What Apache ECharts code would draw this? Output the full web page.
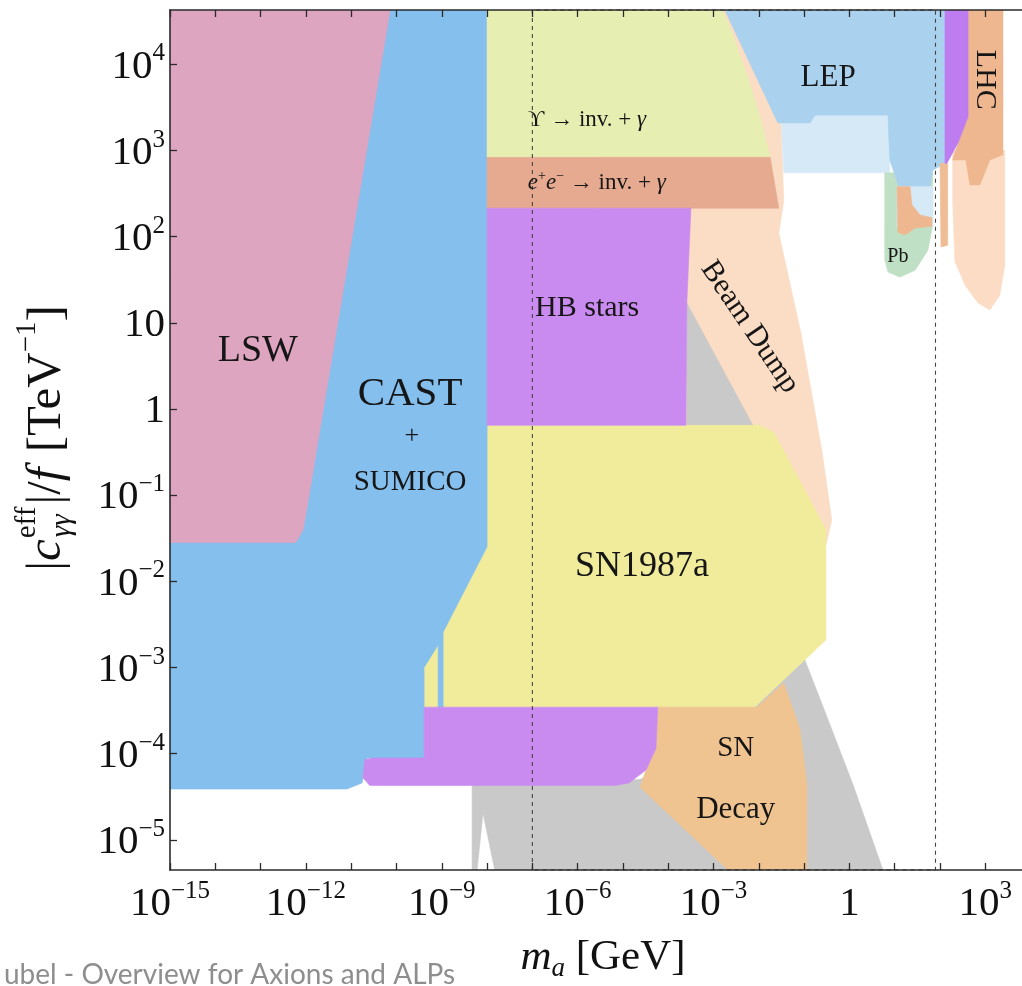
<!DOCTYPE html>
<html><head><meta charset="utf-8">
<script src="https://cdn.jsdelivr.net/npm/echarts@6/dist/echarts.min.js"></script>
<style>html,body{margin:0;padding:0;background:#fff;}#c{width:1022px;height:986px;}</style>
</head><body><div id="c"></div>
<script>
// ---- axes (log10 values) ----
const xMin = -15, xMax = 3.81;       // log10(m_a / GeV)
const yMin = -5.35, yMax = 4.63;     // log10(|c|/f / TeV^-1)
const xTicks = [-15,-14,-13,-12,-11,-10,-9,-8,-7,-6,-5,-4,-3,-2,-1,0,1,2,3];
const xLabelTicks = [-15,-12,-9,-6,-3,0,3];
const yTicks = [-5,-4,-3,-2,-1,0,1,2,3,4];

// ---- exclusion regions: [log10 m_a, log10 coupling] ----
const beamDump = [[-5.51,4.63],[-2.70,4.63],[-1.51,3.32],[-1.45,2.42],[-1.56,2.04],[-1.07,0.88],[-0.61,-0.48],[-0.39,-1.29],[-0.52,-1.58],[-1.67,-0.27],[-1.98,-0.19],[-5.51,-0.19]];
const grayBand = [[-8.33,-4.30],[-4.62,-4.30],[-2.09,-3.46],[-1.03,-2.85],[-0.52,-3.54],[0.08,-4.36],[0.74,-5.35],[-7.83,-5.35],[-8.09,-4.69],[-8.22,-5.35],[-8.33,-5.35]];
const grayTri = [[-3.59,1.23],[-3.59,-0.19],[-2.13,-0.19]];
const sn1987a = [[-8.00,-0.19],[-1.98,-0.19],[-1.67,-0.27],[-0.52,-1.40],[-0.52,-2.68],[-2.09,-3.46],[-9.39,-3.46],[-9.39,-3.00],[-8.00,-1.60]];
const castSumico = [[-15,4.63],[-8.00,4.63],[-8.00,-1.60],[-8.97,-2.59],[-8.97,-3.46],[-9.08,-3.46],[-9.08,-2.74],[-9.39,-3.00],[-9.39,-4.05],[-10.65,-4.05],[-10.76,-4.34],[-11.09,-4.41],[-15,-4.41]];
const lsw = [[-15,4.63],[-10.14,4.63],[-11.69,-0.24],[-11.95,-1.07],[-12.06,-1.40],[-12.22,-1.55],[-15,-1.55]];
const snDecay = [[-4.23,-3.46],[-2.04,-3.46],[-1.45,-3.18],[-1.09,-3.72],[-0.94,-4.36],[-0.94,-5.35],[-2.68,-5.35],[-4.62,-4.39],[-4.49,-4.19],[-4.27,-3.94]];
const hbLow = [[-9.39,-3.46],[-4.23,-3.46],[-4.27,-3.94],[-4.49,-4.19],[-4.87,-4.34],[-5.18,-4.37],[-10.59,-4.37],[-10.74,-4.28],[-10.70,-4.07],[-10.54,-4.05],[-9.39,-4.05]];
const upsilon = [[-8.00,4.63],[-2.81,4.63],[-2.59,4.36],[-2.20,3.78],[-1.91,3.27],[-1.75,2.92],[-8.00,2.92]];
const eeInv = [[-8.00,2.92],[-1.75,2.92],[-1.56,2.33],[-8.00,2.33]];
const hbStars = [[-8.00,2.33],[-3.50,2.33],[-3.59,1.23],[-3.61,-0.19],[-8.00,-0.19]];
const lepLight = [[-1.51,3.41],[0.89,3.41],[0.89,2.74],[-1.45,2.74]];
const pb = [[0.78,2.74],[1.84,2.74],[1.84,2.13],[1.73,1.84],[1.45,1.61],[1.11,1.53],[0.85,1.59],[0.78,1.73]];
const lep = [[-2.75,4.63],[2.11,4.63],[2.11,2.85],[1.84,2.77],[1.78,2.58],[1.09,2.58],[0.89,2.89],[0.85,3.41],[-0.76,3.41],[-0.87,3.32],[-1.58,3.32]];
const lepPale = [[1.05,2.58],[1.84,2.58],[1.84,2.12],[1.05,2.12]];
const orangeU = [[1.05,2.58],[1.34,2.58],[1.38,2.37],[1.56,2.25],[1.82,2.22],[1.82,2.12],[1.45,2.10],[1.23,2.02],[1.07,2.05]];
const orangeStrip = [[2.00,2.85],[2.17,2.85],[2.17,1.90],[2.02,1.88]];
const lhcPeach = [[2.28,3.00],[3.43,3.00],[3.43,1.67],[3.32,1.32],[3.10,1.15],[2.84,1.23],[2.55,1.44],[2.33,1.71],[2.28,2.42]];
const lhcOrange = [[2.62,4.63],[3.39,4.63],[3.39,2.95],[3.10,2.89],[2.88,2.60],[2.66,2.60],[2.57,2.89],[2.28,2.89],[2.40,3.09],[2.62,3.39]];
const lhcPurple = [[2.11,4.63],[2.62,4.63],[2.62,3.39],[2.40,3.09],[2.15,2.85],[2.11,2.85]];
const dashBox = [[-7,-5.35],[-7,4.63],[1.9,4.63],[1.9,-5.35],[-7,-5.35]];

const FAM = '"Liberation Serif","DejaVu Serif",serif';
const regionLabels = [
  {text:'LSW', m:-13.06, g:0.67, size:38},
  {text:'CAST', m:-9.70, g:0.17, size:41},
  {text:'+', m:-9.66, g:-0.32, size:26},
  {text:'SUMICO', m:-9.70, g:-0.85, size:29},
  {text:'{n|ϒ → inv. + }{i|γ}', m:-7.10, g:3.35, size:23, align:'left'},
  {text:'{i|e}{s|+}{i|e}{s|−}{n| → inv. + }{i|γ}', m:-7.10, g:2.62, size:23, align:'left'},
  {text:'HB stars', m:-5.79, g:1.17, size:30},
  {text:'Beam Dump', m:-2.20, g:0.95, size:30, rot:-0.977},
  {text:'LEP', m:-0.47, g:3.84, size:31},
  {text:'LHC', m:2.99, g:3.82, size:30, rot:-Math.PI/2},
  {text:'Pb', m:1.07, g:1.77, size:20},
  {text:'SN1987a', m:-4.58, g:-1.83, size:36},
  {text:'SN', m:-2.51, g:-3.94, size:29},
  {text:'Decay', m:-2.51, g:-4.65, size:31}
];

function poly(pts, color){
  return {type:'custom', coordinateSystem:'cartesian2d', data:[0], silent:true, clip:true, z:2,
    renderItem:(params, api)=>({type:'polygon', shape:{points:pts.map(p=>api.coord(p))},
      style:{fill:color, stroke:color, lineWidth:0.6}})};
}

function labelSeries(){
  return {type:'custom', coordinateSystem:'cartesian2d', data:[0], silent:true, clip:false, z:8,
    renderItem:(params, api)=>({type:'group', children: regionLabels.map(L=>{
      const p = api.coord([L.m, L.g]);
      const s = L.size;
      return {type:'text', x:p[0], y:p[1], rotation:L.rot||0,
        style:{text:L.text, font: s+'px '+FAM, fill:'#161616',
          align:L.align||'center', verticalAlign:'middle', textAlign:L.align||'center', textVerticalAlign:'middle',
          rich:{
            n:{fontSize:s, fontFamily:FAM, fill:'#161616', lineHeight:s+4},
            i:{fontSize:s, fontFamily:FAM, fontStyle:'italic', fill:'#161616', lineHeight:s+4},
            s:{fontSize:Math.round(s*0.6), fontFamily:FAM, fill:'#161616', lineHeight:Math.round(s*0.6), verticalAlign:'top'}
          }}};
    })})};
}

function tickFmt(v){
  v = Math.round(v);
  if (v === 0) return '{b|1}';
  if (v === 1) return '{b|10}';
  return '{b|10}{s|' + (v<0?'−':'') + Math.abs(v) + '}';
}
const tickRich = {
  b:{fontFamily:'Liberation Serif', fontSize:41, lineHeight:46, color:'#111', verticalAlign:'bottom'},
  s:{fontFamily:'Liberation Serif', fontSize:25, lineHeight:25, color:'#111', verticalAlign:'top'}
};
const axisLineStyle = {color:'#2a2a2a', width:1.6};

// y title built from pieces (stacked eff / γγ)
const cv = document.createElement('canvas').getContext('2d');
function tw(t,f){cv.font=f;return cv.measureText(t).width;}
function yTitleChildren(){
  const B=49, S=29;
  const fN=B+'px '+FAM, fI='italic '+B+'px '+FAM, sN=S+'px '+FAM, sI='italic '+S+'px '+FAM;
  const items=[]; let x=0;
  function add(t,f,dy){items.push({t,f,x,dy}); x+=tw(t,f);}
  add('|',fN,0);
  add('c',fI,0);
  const x0=x+1;
  items.push({t:'eff',f:sN,x:x0,dy:-20});
  items.push({t:'γγ',f:sI,x:x0+1,dy:15});
  x = x0 + Math.max(tw('eff',sN), tw('γγ',sI)+1) + 2;
  add('|/',fN,0);
  add('f',fI,0); x+=3;
  add(' [TeV',fN,0);
  add('−1',sN,-20);
  add(']',fN,0);
  const W=x;
  return items.map(it=>({type:'text', x:it.x-W/2, y:it.dy,
    style:{text:it.t, font:it.f, fill:'#111', align:'left', verticalAlign:'middle', textAlign:'left', textVerticalAlign:'middle'}}));
}

const chart = echarts.init(document.getElementById('c'), null, {renderer:'canvas'});
chart.setOption({
  animation:false,
  backgroundColor:'#ffffff',
  grid:{left:170, right:0, top:10, bottom:116, containLabel:false, outerBoundsMode:'none'},
  xAxis:[{
    type:'value', min:xMin, max:xMax, position:'bottom', z:20,
    axisLine:{show:true, onZero:false, lineStyle:axisLineStyle},
    axisTick:{show:true, inside:true, length:7, customValues:xTicks, lineStyle:{color:'#2a2a2a', width:1.3}},
    axisLabel:{show:true, customValues:xLabelTicks, formatter:tickFmt, margin:9, rich:tickRich},
    splitLine:{show:false}
  },{
    type:'value', min:xMin, max:xMax, position:'top', z:20,
    axisLine:{show:true, onZero:false, lineStyle:axisLineStyle},
    axisTick:{show:true, inside:true, length:7, customValues:xTicks, lineStyle:{color:'#2a2a2a', width:1.3}},
    axisLabel:{show:false}, splitLine:{show:false}
  }],
  yAxis:[{
    type:'value', min:yMin, max:yMax, position:'left', z:20,
    axisLine:{show:true, onZero:false, lineStyle:axisLineStyle},
    axisTick:{show:true, inside:true, length:7, customValues:yTicks, lineStyle:{color:'#2a2a2a', width:1.3}},
    axisLabel:{show:true, customValues:yTicks, formatter:tickFmt, margin:5, rich:tickRich},
    splitLine:{show:false}
  }],
  series:[
    poly(beamDump,'#fbdcc4'),
    poly(grayBand,'#c9c9c9'),
    poly(grayTri,'#c9c9c9'),
    poly(sn1987a,'#f0ec9c'),
    poly(castSumico,'#84bfed'),
    poly(lsw,'#dea5c1'),
    poly(snDecay,'#f0c490'),
    poly(hbLow,'#c98bef'),
    poly(upsilon,'#e7eeb2'),
    poly(eeInv,'#e5aa90'),
    poly(hbStars,'#c98bef'),
    poly(lepLight,'#d6e9f7'),
    poly(pb,'#c0e0c5'),
    poly(lep,'#aad1ee'),
    poly(lepPale,'#d6e9f7'),
    poly(orangeU,'#efb78f'),
    poly(orangeStrip,'#efbd95'),
    poly(lhcPeach,'#fcdcc4'),
    poly(lhcOrange,'#efb78f'),
    poly(lhcPurple,'#bd7cf0'),
    {type:'line', data:dashBox, symbol:'none', silent:true, z:6, clip:false,
      lineStyle:{color:'#444', width:1.1, type:[4,4]}},
    labelSeries()
  ],
  graphic:[
    {type:'group', x:47, y:438, rotation:Math.PI/2, children:yTitleChildren()},
    {type:'text', x:603, y:958, style:{text:'{i|m}{sub|a}{n| [GeV]}', font:'43px '+FAM, fill:'#111',
      align:'center', verticalAlign:'middle', textAlign:'center', textVerticalAlign:'middle',
      rich:{i:{fontSize:43, fontFamily:FAM, fontStyle:'italic', fill:'#111', lineHeight:48},
            n:{fontSize:43, fontFamily:FAM, fill:'#111', lineHeight:48},
            sub:{fontSize:27, fontFamily:FAM, fontStyle:'italic', fill:'#111', lineHeight:27, verticalAlign:'bottom'}}}},
    {type:'text', x:4, y:975, style:{text:'ubel - Overview for Axions and ALPs', font:'28px Lato, "Open Sans", sans-serif', fill:'#8e8e8e',
      align:'left', verticalAlign:'middle', textAlign:'left', textVerticalAlign:'middle'}}
  ]
});
</script></body></html>
